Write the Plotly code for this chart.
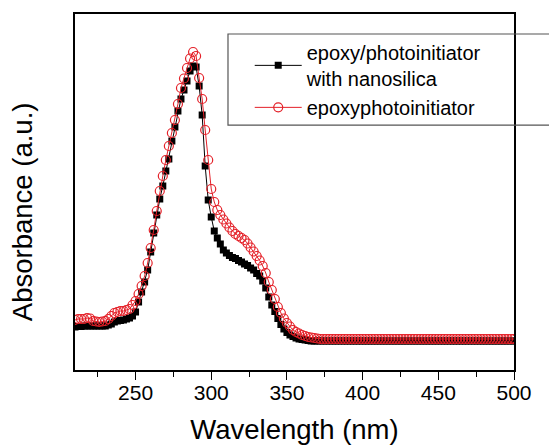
import plotly.graph_objects as go

# Wavelength sampling grid (nm), every 2 nm
wavelength = list(range(210, 501, 2))

# epoxy/photoinitiator with nanosilica (black squares), arbitrary units
abs_nanosilica = [
    0.43, 0.435, 0.435, 0.44, 0.44, 0.44, 0.44, 0.44, 0.44, 0.44,   # 210-228
    0.44, 0.45, 0.46, 0.48, 0.49, 0.495, 0.50, 0.51, 0.52, 0.54,    # 230-248
    0.58, 0.68, 0.78, 0.88, 1.00, 1.18, 1.37, 1.55, 1.71, 1.84,     # 250-268
    1.99, 2.11, 2.29, 2.43, 2.59, 2.71, 2.80, 2.89, 2.99, 3.04,     # 270-288
    3.03, 2.84, 2.55, 2.04, 1.70, 1.53, 1.39, 1.32, 1.26, 1.20,     # 290-308
    1.17, 1.145, 1.125, 1.115, 1.095, 1.08, 1.06, 1.045, 1.02, 1.00,  # 310-328
    0.965, 0.94, 0.89, 0.82, 0.73, 0.65, 0.585, 0.515, 0.455, 0.41, # 330-348
    0.375, 0.35, 0.335, 0.32, 0.31, 0.305, 0.30, 0.295,             # 350-364
    0.29, 0.29, 0.29, 0.29, 0.29, 0.29, 0.29, 0.29, 0.29, 0.29,     # 366-384
    0.29, 0.29, 0.29, 0.29, 0.29, 0.29, 0.29, 0.29, 0.29, 0.29,     # 386-404
    0.29, 0.29, 0.29, 0.29, 0.29, 0.29, 0.29, 0.29, 0.29, 0.29,     # 406-424
    0.29, 0.29, 0.29, 0.29, 0.29, 0.29, 0.29, 0.29, 0.29, 0.29,     # 426-444
    0.29, 0.29, 0.29, 0.29, 0.29, 0.29, 0.29, 0.29, 0.29, 0.29,     # 446-464
    0.29, 0.29, 0.29, 0.29, 0.29, 0.29, 0.29, 0.29, 0.29, 0.29,     # 466-484
    0.29, 0.29, 0.29, 0.29, 0.29, 0.29, 0.29, 0.29,                 # 486-500
]

# epoxyphotoinitiator (red open circles), arbitrary units
abs_plain = [
    0.50, 0.51, 0.51, 0.51, 0.52, 0.515, 0.49, 0.485, 0.48, 0.485,  # 210-228
    0.49, 0.51, 0.54, 0.57, 0.58, 0.59, 0.59, 0.60, 0.61, 0.65,     # 230-248
    0.69, 0.76, 0.84, 0.94, 1.07, 1.22, 1.40, 1.59, 1.79, 1.94,     # 250-268
    2.10, 2.24, 2.37, 2.50, 2.66, 2.82, 2.915, 3.02, 3.115, 3.18,   # 270-288
    3.14, 2.92, 2.71, 2.40, 2.10, 1.81, 1.68, 1.60, 1.55, 1.505,    # 290-308
    1.465, 1.425, 1.39, 1.36, 1.34, 1.32, 1.30, 1.265, 1.225, 1.185,  # 310-328
    1.14, 1.095, 1.04, 0.97, 0.88, 0.80, 0.71, 0.63, 0.57, 0.515,   # 330-348
    0.47, 0.435, 0.40, 0.38, 0.365, 0.35, 0.34, 0.33, 0.325, 0.32,  # 350-368
    0.315,                                                           # 370
    0.31, 0.31, 0.31, 0.31, 0.31, 0.31, 0.31, 0.31, 0.31, 0.31,     # 372-390
    0.31, 0.31, 0.31, 0.31, 0.31, 0.31, 0.31, 0.31, 0.31, 0.31,     # 392-410
    0.31, 0.31, 0.31, 0.31, 0.31, 0.31, 0.31, 0.31, 0.31, 0.31,     # 412-430
    0.31, 0.31, 0.31, 0.31, 0.31, 0.31, 0.31, 0.31, 0.31, 0.31,     # 432-450
    0.31, 0.31, 0.31, 0.31, 0.31, 0.31, 0.31, 0.31, 0.31, 0.31,     # 452-470
    0.31, 0.31, 0.31, 0.31, 0.31, 0.31, 0.31, 0.31, 0.31, 0.31,     # 472-490
    0.31, 0.31, 0.31, 0.31, 0.31,                                   # 492-500
]

x_tickvals = [250, 300, 350, 400, 450, 500]
x_ticktext = ["250", "300", "350", "400", "450", "500"]

FONT = "Liberation Sans, Arial, sans-serif"
RED = "rgb(228,32,40)"

fig = go.Figure()
fig.add_trace(go.Scatter(
    x=wavelength, y=abs_nanosilica, mode="lines+markers",
    name="epoxy/photoinitiator<br>with nanosilica",
    line=dict(color="black", width=1),
    marker=dict(symbol="square", size=7, color="black"),
))
fig.add_trace(go.Scatter(
    x=wavelength, y=abs_plain, mode="lines+markers",
    name="epoxyphotoinitiator",
    line=dict(color=RED, width=1),
    marker=dict(symbol="circle-open", size=9, color=RED, line=dict(width=1.2)),
))

fig.update_layout(
    template="none",
    width=549, height=445,
    margin=dict(l=75, r=35, t=14, b=75, autoexpand=False),
    paper_bgcolor="white", plot_bgcolor="white",
    font=dict(family=FONT, color="black"),
    showlegend=True,
    legend=dict(
        x=0.398, y=0.947, xanchor="left", yanchor="top",
        bgcolor="rgba(0,0,0,0)", borderwidth=0,
        font=dict(size=20, family=FONT),
        itemwidth=47, tracegroupgap=0,
    ),
    xaxis=dict(
        range=[210, 500], tickvals=x_tickvals, ticktext=x_ticktext,
        automargin=False,
        showline=True, linecolor="black", linewidth=1.5, mirror=True,
        ticks="outside", ticklen=8, tickwidth=1.2, tickcolor="black",
        tickfont=dict(size=21, family=FONT), ticklabelstandoff=-5,
        minor=dict(ticks="outside", ticklen=5, tickwidth=1, tickcolor="black",
                   tickvals=[225, 275, 325, 375, 425, 475]),
        showgrid=False, zeroline=False,
        title=dict(text="Wavelength (nm)", font=dict(size=27.5, family=FONT), standoff=19),
    ),
    yaxis=dict(
        range=[0, 3.56], automargin=False,
        showline=True, linecolor="black", linewidth=1.5, mirror=True,
        ticks="", showticklabels=False, showgrid=False, zeroline=False,
    ),
    shapes=[dict(
        type="rect", xref="paper", yref="paper",
        x0=0.3485, x1=1.2, y0=0.688, y1=0.9438,
        line=dict(color="#555555", width=1.2), fillcolor="rgba(0,0,0,0)",
        layer="above",
    )],
    annotations=[dict(
        text="Absorbance (a.u.)", xref="paper", yref="paper",
        x=-0.118, y=0.444, xanchor="center", yanchor="middle",
        textangle=-90, showarrow=False,
        font=dict(size=27.5, family=FONT, color="black"),
    )],
)

fig.write_html(
    "out.html",
    config={"displayModeBar": False},
    post_script="document.body.style.margin='0';document.body.style.padding='0';",
)
